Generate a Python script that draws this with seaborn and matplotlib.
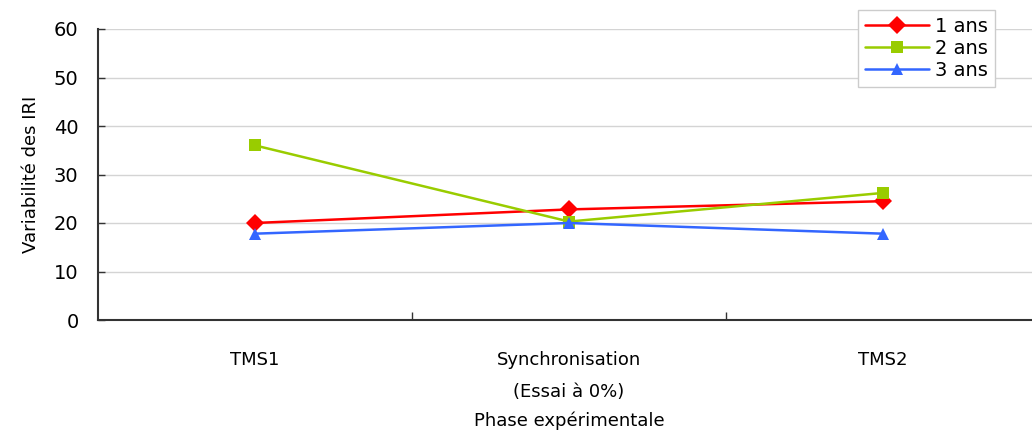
import matplotlib
matplotlib.use('Agg')
import matplotlib.pyplot as plt
import seaborn as sns
import pandas as pd

# chart values
phases = ['TMS1', 'Synchronisation\n(Essai à 0%)', 'TMS2']
ans_1 = [20.0, 22.8, 24.5]
ans_2 = [36.0, 20.3, 26.2]
ans_3 = [17.8, 20.0, 17.8]
groups = ['1 ans', '2 ans', '3 ans']

rows = []
for g, vals in zip(groups, [ans_1, ans_2, ans_3]):
    for i, v in enumerate(vals):
        rows.append({'phase': i, 'val': v, 'groupe': g})
df = pd.DataFrame(rows)

sns.set_style('white')
plt.rcParams['font.family'] = ['DejaVu Sans']
plt.rcParams['text.color'] = 'black'
plt.rcParams['axes.labelcolor'] = 'black'
plt.rcParams['xtick.color'] = 'black'
plt.rcParams['ytick.color'] = 'black'

fig = plt.figure(figsize=(10.32, 4.41), dpi=100)
ax = fig.add_axes([98 / 1032, 121 / 441, 942 / 1032, 291 / 441])

colors = {'1 ans': '#ff0000', '2 ans': '#99cc00', '3 ans': '#3366ff'}
markers = {'1 ans': 'D', '2 ans': 's', '3 ans': '^'}
sns.lineplot(data=df, x='phase', y='val', hue='groupe', style='groupe',
             palette=colors, markers=markers, dashes=False, markersize=9,
             markeredgewidth=0, linewidth=1.8, ax=ax, legend=False)

ax.set_xlim(-0.5, 2.5)
ax.set_ylim(0, 60)
ax.set_yticks(range(0, 61, 10))
ax.set_xticks(range(3))
ax.set_xticklabels(phases, fontsize=13, linespacing=2.0, va='top')
ax.set_xticks([0.5, 1.5], minor=True)
ax.tick_params(axis='x', which='major', length=0, pad=22)
ax.tick_params(axis='x', which='minor', bottom=True, length=6, width=1,
               direction='in', color='#333333')
ax.tick_params(axis='y', which='major', left=True, length=5, width=1, direction='in',
               labelsize=14, color='#333333', pad=14)
ax.yaxis.grid(True, color='#d4d4d4', linewidth=1)
ax.set_axisbelow(True)
for s in ['top', 'right']:
    ax.spines[s].set_visible(False)
for s in ['left', 'bottom']:
    ax.spines[s].set_color('#333333')
    ax.spines[s].set_linewidth(1.5)

ax.set_xlabel('Phase expérimentale', fontsize=13, labelpad=8)
ax.set_ylabel('Variabilité des IRI', fontsize=13, labelpad=10)

# legend built from the plotted lines so markers keep their size
leg = ax.legend(ax.get_lines()[:3], groups, loc='upper left',
                bbox_to_anchor=(0.807, 1.065), borderaxespad=0,
                fontsize=14, frameon=True, fancybox=False, edgecolor='#cccccc',
                framealpha=1, handlelength=3.3, borderpad=0.35, labelspacing=0.15,
                handletextpad=0.3, numpoints=1)
leg.get_frame().set_linewidth(1)

fig.savefig('out.png', dpi=100)
